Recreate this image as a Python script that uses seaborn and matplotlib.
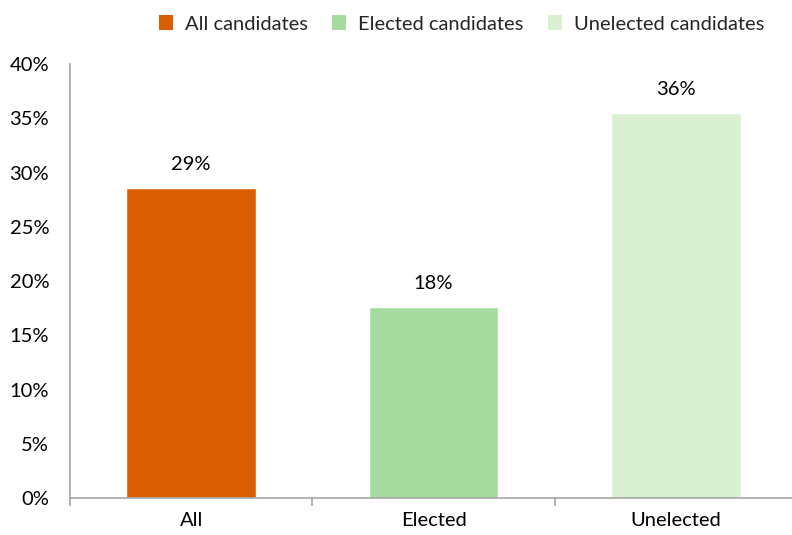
import matplotlib
matplotlib.use("Agg")
import matplotlib.pyplot as plt
import seaborn as sns
import pandas as pd
from matplotlib.ticker import PercentFormatter, FixedLocator
from matplotlib.patches import Patch

categories = ["All", "Elected", "Unelected"]
legend_labels = ["All candidates", "Elected candidates", "Unelected candidates"]
values = [28.6, 17.6, 35.5]
value_labels = ["29%", "18%", "36%"]
colors = ["#D95F02", "#A6DBA0", "#D9F0D3"]

sns.set_theme(style="white")
plt.rcParams["font.family"] = ["Lato", "DejaVu Sans"]
FS = 14.5

df = pd.DataFrame({"cat": categories, "val": values, "grp": legend_labels})

fig = plt.figure(figsize=(7.92, 5.35), dpi=100)
ax = fig.add_axes([0.0884, 0.069, 0.918, 0.811])

sns.barplot(data=df, x="cat", y="val", hue="grp", palette=colors,
            dodge=False, width=0.535, legend=False, ax=ax, saturation=1)

ax.set_ylim(0, 40)
ax.set_xlim(-0.5, 2.5)
ax.yaxis.set_major_formatter(PercentFormatter(decimals=0))
ax.set_yticks(range(0, 41, 5))
ax.set_xlabel("")
ax.set_ylabel("")

for s in ["top", "right"]:
    ax.spines[s].set_visible(False)
for s in ["left", "bottom"]:
    ax.spines[s].set_color("#A6A6A6")
    ax.spines[s].set_linewidth(1.2)

ax.tick_params(axis="y", length=0, labelsize=FS, colors="black", pad=15)
ax.tick_params(axis="x", which="major", length=0, labelsize=FS, colors="black", pad=10)
ax.xaxis.set_minor_locator(FixedLocator([-0.5, 0.5, 1.5, 2.5]))
ax.tick_params(axis="x", which="minor", length=6, width=1.2, color="#A6A6A6", bottom=True)

for i, (v, lab) in enumerate(zip(values, value_labels)):
    ax.annotate(lab, (i, v), xytext=(0, 11), textcoords="offset points",
                ha="center", va="bottom", fontsize=FS, color="black")

handles = [Patch(facecolor=c, edgecolor="none") for c in colors]
fig.legend(handles, legend_labels, loc="upper center", bbox_to_anchor=(0.583, 1.005),
           ncol=3, frameon=False, fontsize=FS, handlelength=0.7, handleheight=0.7,
           columnspacing=1.2, handletextpad=0.6)

fig.savefig("out.png", dpi=100, facecolor="white")
